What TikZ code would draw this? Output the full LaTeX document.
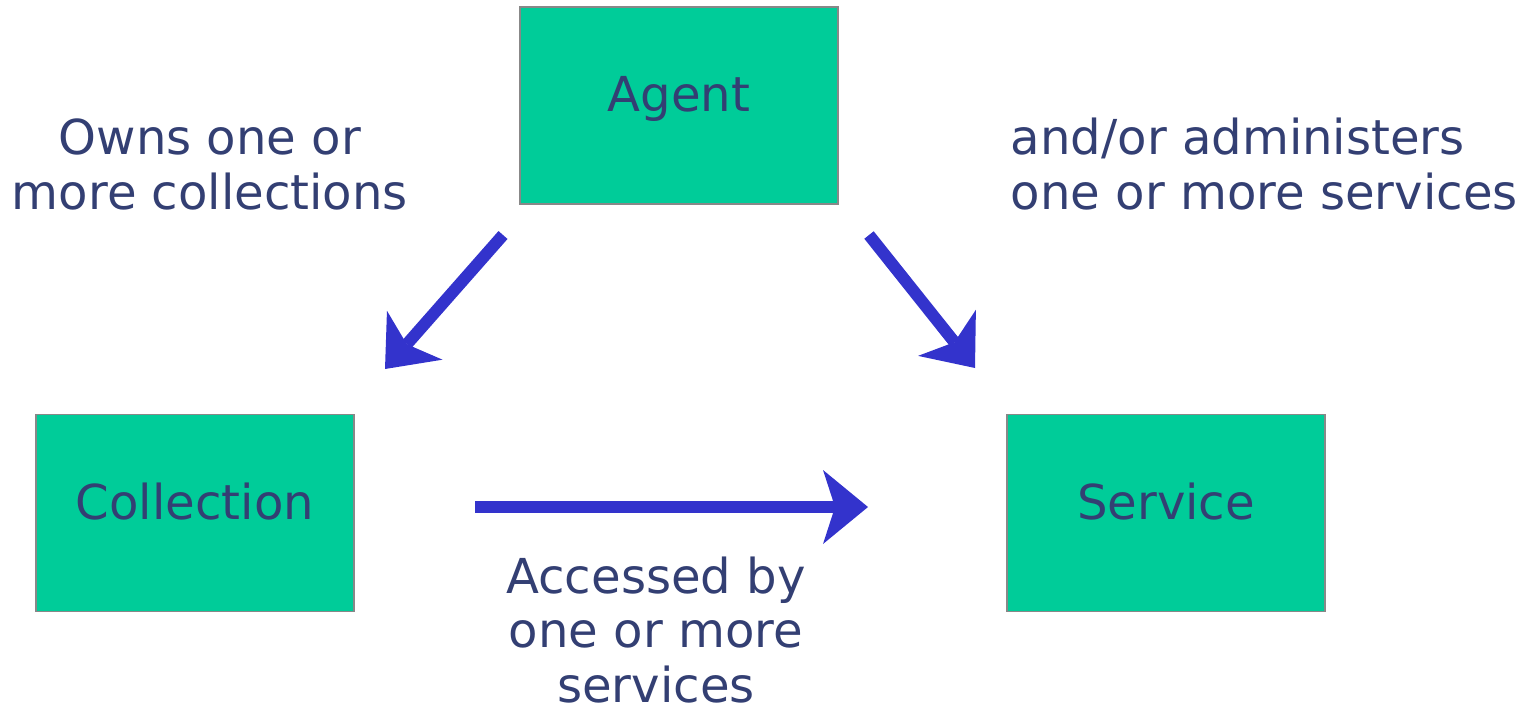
\documentclass[tikz,border=0pt]{standalone}
\usepackage{fontspec}
\setmainfont{DejaVu Sans}
\usetikzlibrary{arrows.meta}
\definecolor{boxgreen}{HTML}{00CC99}
\definecolor{boxline}{HTML}{888888}
\definecolor{inktext}{RGB}{51,63,115}
\definecolor{arrowblue}{HTML}{3333CC}
\begin{document}
\begin{tikzpicture}[
    every node/.style={text=inktext, font=\fontsize{13.7pt}{15.4pt}\selectfont},
    entity/.style={draw=boxline, line width=0.5pt, fill=boxgreen, inner sep=0pt,
        minimum width=3.18cm, minimum height=1.97cm, text height=0.36cm, text depth=0.24cm},
    link/.style={draw=arrowblue, line width=0.12cm,
        -{Stealth[length=0.45cm, width=0.74cm, inset=0.12cm, line width=0pt]}}]
    \useasboundingbox (0, 0) rectangle (15.3, 7.12);
        \node[entity] (agent) at (6.79, 6.065) {Agent};
        \node[entity] (collection) at (1.95, 1.99) {Collection};
        \node[entity] (service) at (11.66, 1.99) {Service};
        %
        \coordinate (a1) at (5.03, 4.77);
        \coordinate (b1) at (3.85, 3.43);
        \coordinate (a2) at (8.69, 4.77);
        \coordinate (b2) at (9.75, 3.44);
        \coordinate (a3) at (4.75, 2.05);
        \coordinate (b3) at (8.68, 2.05);
        \draw[link] (a1) to (b1);
        \draw[link] (a2) to (b2);
        \draw[link] (a3) to (b3);
        %
        \node[anchor=base, align=center, inner sep=0pt] (owns) at (2.10, 5.03)
            {Owns one or\\more collections};
        \node[anchor=base west, align=left, inner sep=0pt] (admin) at (10.10, 5.03)
            {and/or administers\\one or more services};
        \node[anchor=base, align=center, inner sep=0pt] (access) at (6.56, 0.10)
            {Accessed by\\one or more\\services};
\end{tikzpicture}
\end{document}
